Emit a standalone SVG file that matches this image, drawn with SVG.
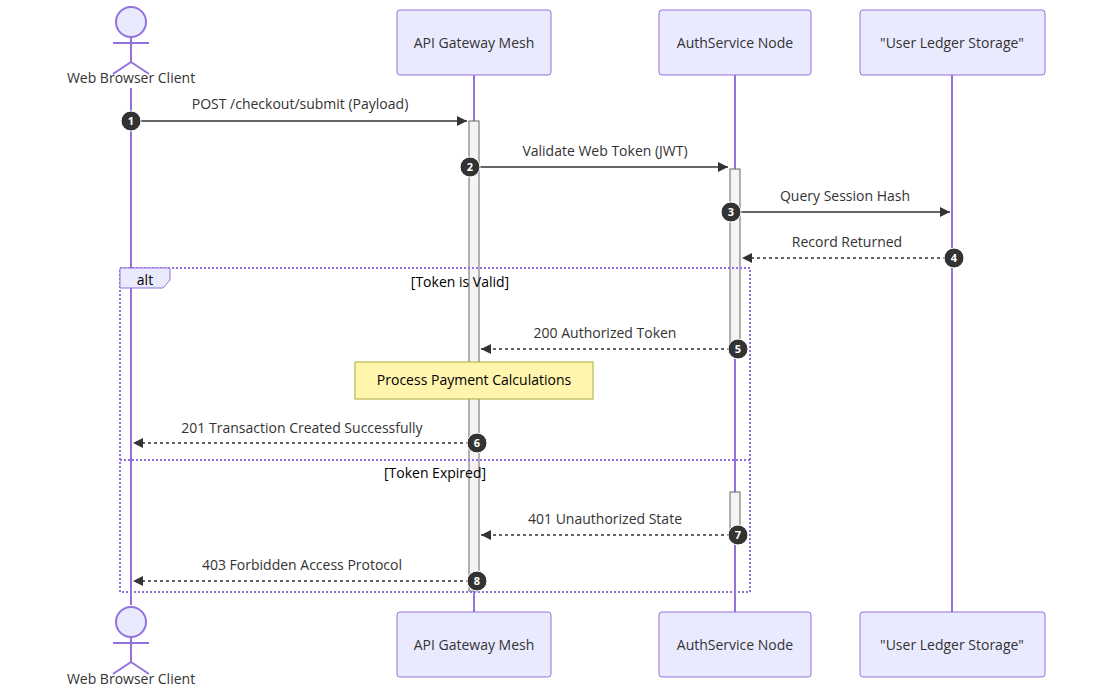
<svg xmlns="http://www.w3.org/2000/svg" width="1095" height="688" viewBox="0 0 1095 688">
<style>
text{font-family:"Open Sans","DejaVu Sans",sans-serif;font-size:14px;fill:#333;text-anchor:middle}
.box{fill:#eaeaff;stroke:#9370db;stroke-width:1}
.life{stroke:#9370db;stroke-width:2}
.act{fill:#f4f4f4;stroke:#666;stroke-width:1}
.msg{stroke:#333;stroke-width:1.5;fill:none}
.dash{stroke-dasharray:3,3}
.num{fill:#333;stroke:#fff;stroke-width:1}
.numt{fill:#fff;font-size:11px;font-weight:bold}
.actor{fill:#eaeaff;stroke:#9370db;stroke-width:2}
.frame{fill:none;stroke:#9370db;stroke-width:2;stroke-dasharray:2,2}
</style>
<defs><marker id="ah" markerWidth="12" markerHeight="12" refX="10" refY="5" orient="auto" markerUnits="userSpaceOnUse"><path d="M0,0 L10,5 L0,10 z" fill="#333"/></marker></defs>
<g id="lifelines">
<line class="life" x1="131" y1="88" x2="131" y2="605"/>
<line class="life" x1="474" y1="75" x2="474" y2="612"/>
<line class="life" x1="735" y1="75" x2="735" y2="612"/>
<line class="life" x1="952" y1="75" x2="952" y2="612"/>
</g>
<g id="client">
<circle class="actor" cx="131" cy="22" r="15"/><path class="actor" d="M131,37V62M113,43H149M131,62L113,74M131,62L149,74" fill="none"/>
<text x="131" y="83">Web Browser Client</text>
<circle class="actor" cx="131" cy="622" r="15"/><path class="actor" d="M131,637V662M113,643H149M131,662L113,674M131,662L149,674" fill="none"/>
<text x="131" y="684">Web Browser Client</text>
</g>
<g id="gateway"><rect class="box" x="397" y="10" width="154" height="65" rx="3"/><text x="474" y="48">API Gateway Mesh</text>
<rect class="box" x="397" y="612" width="154" height="65" rx="3"/><text x="474" y="650">API Gateway Mesh</text></g>
<g id="auth"><rect class="box" x="659" y="10" width="152" height="65" rx="3"/><text x="735" y="48">AuthService Node</text>
<rect class="box" x="659" y="612" width="152" height="65" rx="3"/><text x="735" y="650">AuthService Node</text></g>
<g id="ledger"><rect class="box" x="860" y="10" width="185" height="65" rx="3"/><text x="952" y="48">"User Ledger Storage"</text>
<rect class="box" x="860" y="612" width="185" height="65" rx="3"/><text x="952" y="650">"User Ledger Storage"</text></g>
<g id="activations">
<rect class="act" x="469" y="121" width="10" height="470"/>
<rect class="act" x="730" y="169" width="10" height="181"/>
<rect class="act" x="730" y="492" width="10" height="44"/>
</g>
<g id="alt">
<rect class="frame" x="120" y="268" width="630" height="324"/>
<path d="M120,268H170V280L163,288H120Z" fill="#eaeaff" stroke="#9370db"/>
<text x="145" y="285" style="fill:#000">alt</text>
<text x="460" y="287" style="fill:#000">[Token is Valid]</text>
<line class="frame" x1="120" y1="460" x2="750" y2="460"/>
<text x="435" y="478" style="fill:#000">[Token Expired]</text>
</g>
<g id="note"><rect x="355" y="362" width="238" height="37" fill="#fff5ad" stroke="#aaaa33"/><text x="474" y="385" style="fill:#000">Process Payment Calculations</text></g>
<g id="connectors">
<line class="msg" x1="131" y1="121" x2="467" y2="121" marker-end="url(#ah)"/><text x="300" y="109">POST /checkout/submit (Payload)</text>
<line class="msg" x1="479" y1="167" x2="728" y2="167" marker-end="url(#ah)"/><text x="605" y="156">Validate Web Token (JWT)</text>
<line class="msg" x1="740" y1="212" x2="950" y2="212" marker-end="url(#ah)"/><text x="845" y="201">Query Session Hash</text>
<line class="msg dash" x1="952" y1="258" x2="742" y2="258" marker-end="url(#ah)"/><text x="847" y="247">Record Returned</text>
<line class="msg dash" x1="730" y1="349" x2="481" y2="349" marker-end="url(#ah)"/><text x="605" y="338">200 Authorized Token</text>
<line class="msg dash" x1="469" y1="443" x2="133" y2="443" marker-end="url(#ah)"/><text x="302" y="433">201 Transaction Created Successfully</text>
<line class="msg dash" x1="730" y1="535" x2="481" y2="535" marker-end="url(#ah)"/><text x="605" y="524">401 Unauthorized State</text>
<line class="msg dash" x1="469" y1="581" x2="133" y2="581" marker-end="url(#ah)"/><text x="302" y="570">403 Forbidden Access Protocol</text>
</g>
<g id="numbers">
<circle class="num" cx="131" cy="121" r="10"/><text class="numt" x="131" y="125">1</text>
<circle class="num" cx="470" cy="167" r="10"/><text class="numt" x="470" y="171">2</text>
<circle class="num" cx="731" cy="212" r="10"/><text class="numt" x="731" y="216">3</text>
<circle class="num" cx="954" cy="258" r="10"/><text class="numt" x="954" y="262">4</text>
<circle class="num" cx="738" cy="349" r="10"/><text class="numt" x="738" y="353">5</text>
<circle class="num" cx="477" cy="443" r="10"/><text class="numt" x="477" y="447">6</text>
<circle class="num" cx="738" cy="535" r="10"/><text class="numt" x="738" y="539">7</text>
<circle class="num" cx="477" cy="581" r="10"/><text class="numt" x="477" y="585">8</text>
</g>
</svg>
